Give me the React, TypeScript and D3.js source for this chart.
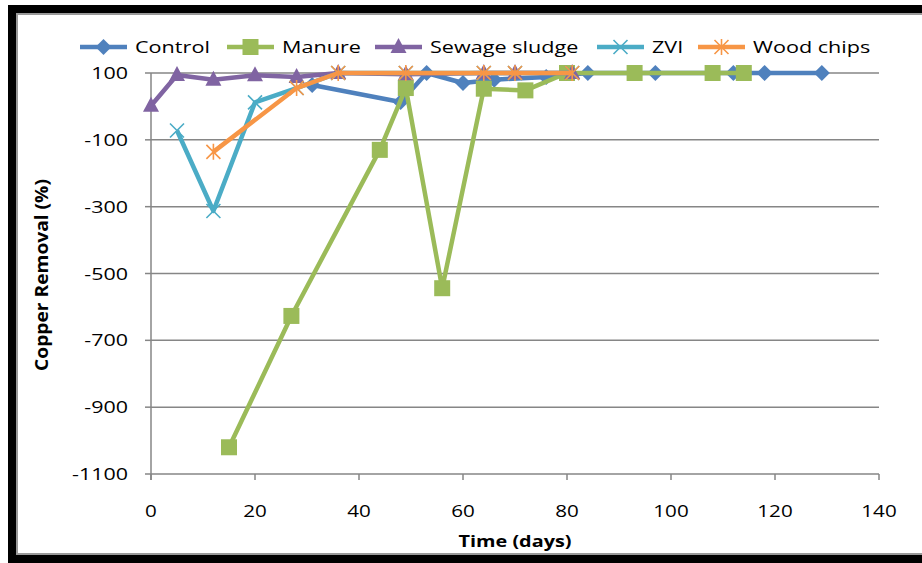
import * as d3 from 'd3';
import React from 'react';

const xTicks = [0, 20, 40, 60, 80, 100, 120, 140];
const yTicks = [100, -100, -300, -500, -700, -900, -1100];

const controlDays = [31, 48, 53, 60, 66, 76, 84, 97, 112, 118, 129];
const controlVals = [64, 13, 100, 70, 80, 88, 100, 100, 100, 100, 100];

const manureDays = [15, 27, 44, 49, 56, 64, 72, 80, 93, 108, 114];
const manureVals = [-1020, -627, -130, 55, -544, 53, 48, 100, 100, 100, 100];

const sewageDays = [0, 5, 12, 20, 28, 36, 49, 64, 70, 81];
const sewageVals = [2, 94, 80, 93, 88, 100, 96, 100, 100, 100];

const zviDays = [5, 12, 20, 28, 36, 49, 64, 70, 81];
const zviVals = [-72, -313, 12, 55, 100, 100, 100, 100, 100];

const woodDays = [12, 28, 36, 49, 64, 70, 81];
const woodVals = [-136, 55, 100, 100, 100, 100, 100];

const series = [
  { name: 'Control', days: controlDays, vals: controlVals, color: '#4F81BD', marker: 'diamond' },
  { name: 'Manure', days: manureDays, vals: manureVals, color: '#9BBB59', marker: 'square' },
  { name: 'Sewage sludge', days: sewageDays, vals: sewageVals, color: '#8064A2', marker: 'triangle' },
  { name: 'ZVI', days: zviDays, vals: zviVals, color: '#4BACC6', marker: 'x' },
  { name: 'Wood chips', days: woodDays, vals: woodVals, color: '#F79646', marker: 'star' },
];

const legendX = [80, 227, 375, 597, 698];

const font = "'Open Sans', 'Noto Sans', sans-serif";
const grid = '#868686';

function Marker({ type, x, y, color }: { type: string; x: number; y: number; color: string }) {
  if (type === 'diamond') {
    const r = 8;
    return <path d={`M${x},${y - r}L${x + r},${y}L${x},${y + r}L${x - r},${y}Z`} fill={color} />;
  }
  if (type === 'square') {
    return <rect x={x - 8} y={y - 8} width={16} height={16} fill={color} />;
  }
  if (type === 'triangle') {
    return <path d={`M${x},${y - 9}L${x + 8},${y + 6}L${x - 8},${y + 6}Z`} fill={color} />;
  }
  if (type === 'x') {
    const r = 7;
    return (
      <path d={`M${x - r},${y - r}L${x + r},${y + r}M${x - r},${y + r}L${x + r},${y - r}`}
        stroke={color} strokeWidth={1.6} fill="none" />
    );
  }
  const r = 7;
  return (
    <path d={`M${x - r},${y - r}L${x + r},${y + r}M${x - r},${y + r}L${x + r},${y - r}M${x},${y - r - 1}L${x},${y + r + 1}`}
      stroke={color} strokeWidth={1.6} fill="none" />
  );
}

export default function App() {
  const x = d3.scaleLinear().domain([0, 140]).range([151, 879]);
  const y = d3.scaleLinear().domain([-1100, 100]).range([474, 73]);

  const line = d3.line<[number, number]>()
    .x(d => x(d[0]))
    .y(d => y(d[1]));

  return (
    <svg width={922} height={563} style={{ position: 'absolute', left: 0, top: 0 }}>
      <rect x={8} y={5} width={930} height={570} fill="#000" />
      <rect x={17} y={14} width={920} height={540} fill="#fff" stroke="#999" strokeWidth={2} />

      {/* grid */}
      {yTicks.map(t => (
        <line key={t} x1={151} x2={879} y1={y(t)} y2={y(t)} stroke={grid} strokeWidth={1.5} />
      ))}
      <line x1={x(0)} x2={x(0)} y1={y(100)} y2={y(-1100) + 6} stroke={grid} strokeWidth={1.5} />
      {yTicks.map(t => (
        <line key={'yt' + t} x1={145} x2={151} y1={y(t)} y2={y(t)} stroke={grid} strokeWidth={1.5} />
      ))}
      {xTicks.map(t => (
        <line key={'xt' + t} x1={x(t)} x2={x(t)} y1={y(-1100)} y2={y(-1100) + 6} stroke={grid} strokeWidth={1.5} />
      ))}

      {/* tick labels */}
      {yTicks.map(t => (
        <g key={'yl' + t} transform={`translate(128,${y(t) + 6}) scale(1.3,1)`}>
          <text textAnchor="end" fontFamily={font} fontSize={16.5} fill="#000">{t}</text>
        </g>
      ))}
      {xTicks.map(t => (
        <g key={'xl' + t} transform={`translate(${x(t)},517) scale(1.25,1)`}>
          <text textAnchor="middle" fontFamily={font} fontSize={16.5} fill="#000">{t}</text>
        </g>
      ))}

      {/* axis titles */}
      <g transform="translate(515,547) scale(1.28,1)">
        <text textAnchor="middle" fontFamily={font} fontSize={15.5} fontWeight="bold">Time (days)</text>
      </g>
      <g transform="translate(48,275) rotate(-90) scale(1.2,1.15)">
        <text textAnchor="middle" fontFamily={font} fontSize={16} fontWeight="bold">Copper Removal (%)</text>
      </g>

      {/* series */}
      {series.map(s => {
        const pts = s.days.map((d, i) => [d, s.vals[i]] as [number, number]);
        return (
          <g key={s.name}>
            <path d={line(pts) || ''} fill="none" stroke={s.color} strokeWidth={4.5} strokeLinejoin="round" />
            {pts.map((p, i) => (
              <Marker key={i} type={s.marker} x={x(p[0])} y={y(p[1])} color={s.color} />
            ))}
          </g>
        );
      })}

      {/* legend */}
      {series.map((s, i) => (
        <g key={'lg' + s.name}>
          <line x1={legendX[i]} x2={legendX[i] + 47} y1={47} y2={47} stroke={s.color} strokeWidth={4.5} />
          <Marker type={s.marker} x={legendX[i] + 23.5} y={47} color={s.color} />
          <g transform={`translate(${legendX[i] + 55},53) scale(1.31,1)`}>
            <text fontFamily={font} fontSize={16.5} fill="#000">{s.name}</text>
          </g>
        </g>
      ))}
    </svg>
  );
}
